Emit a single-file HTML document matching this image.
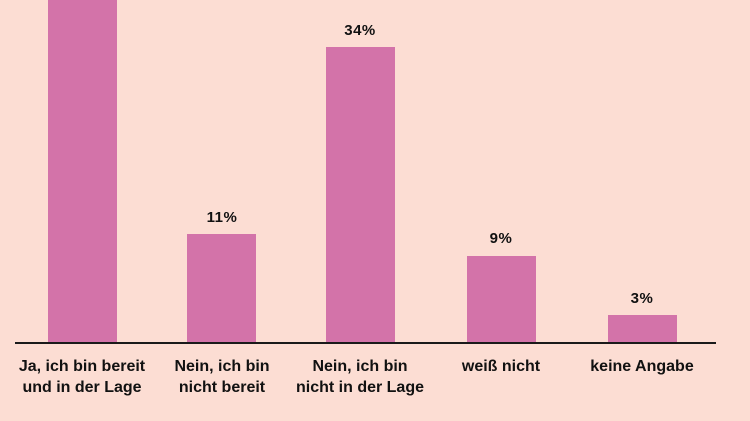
<!DOCTYPE html>
<html><head><meta charset="utf-8"><style>
html,body{margin:0;padding:0}
body{width:750px;height:421px;background:#fcddd3;position:relative;overflow:hidden;font-family:"Liberation Sans",sans-serif;font-weight:bold;color:#111}
.bar{position:absolute;background:#d373a9;width:69px}
.v{position:absolute;width:120px;text-align:center;font-size:15px;line-height:16px;letter-spacing:0.5px}
.l{position:absolute;width:170px;text-align:center;font-size:16px;line-height:21px;top:356px}
.ax{position:absolute;left:15px;width:701px;top:342px;height:1.5px;background:#1a1a1a}
</style></head><body>
<div class="bar" style="left:48px;top:0;height:342px"></div>
<div class="bar" style="left:187px;top:234px;height:108px"></div>
<div class="bar" style="left:326px;top:47px;height:295px"></div>
<div class="bar" style="left:467px;top:256px;height:86px"></div>
<div class="bar" style="left:608px;top:315px;height:27px"></div>
<div class="ax"></div>
<div class="v" style="left:162px;top:210px">11%</div>
<div class="v" style="left:300px;top:23px">34%</div>
<div class="v" style="left:441px;top:231px">9%</div>
<div class="v" style="left:582px;top:291px">3%</div>
<div class="l" style="left:-3px">Ja, ich bin bereit<br>und in der Lage</div>
<div class="l" style="left:137px">Nein, ich bin<br>nicht bereit</div>
<div class="l" style="left:275px">Nein, ich bin<br>nicht in der Lage</div>
<div class="l" style="left:416px">weiß nicht</div>
<div class="l" style="left:557px">keine Angabe</div>
</body></html>
